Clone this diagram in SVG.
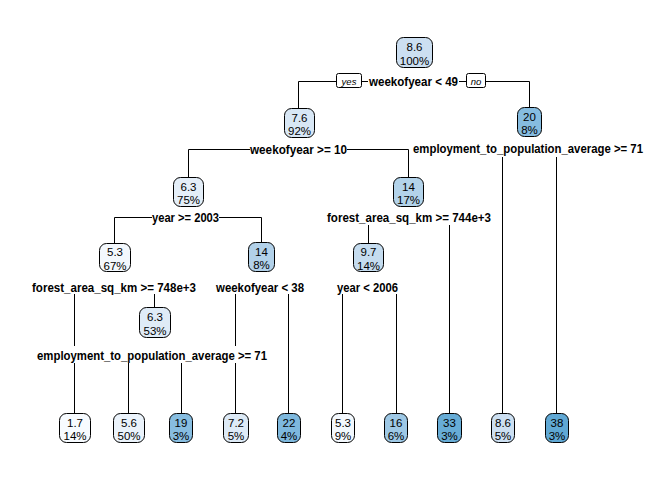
<svg xmlns="http://www.w3.org/2000/svg" width="672" height="480" viewBox="0 0 672 480">
<style>
.bg{fill:#ffffff}
.n{stroke:#000;stroke-width:1}
.t{font-family:"Liberation Sans",Arial,sans-serif;font-size:11.5px;text-anchor:middle;fill:#000}
.s{font-family:"Liberation Sans",Arial,sans-serif;font-size:12px;font-weight:bold;text-anchor:middle;fill:#000}
.yn{font-family:"Liberation Sans",Arial,sans-serif;font-size:9.5px;font-style:italic;text-anchor:middle;fill:#000}
.c{stroke:#000;stroke-width:1;fill:none}
.yb{fill:#fff;stroke:#000;stroke-width:1}
</style>
<rect class="bg" x="0" y="0" width="672" height="480"/>
<g id="connectors">
<path class="c" d="M298.5,81.5H336M362,81.5H368M459,81.5H466M486,81.5H529.5V108M298.5,81.5V108"/>
<path class="c" d="M188.5,149.5H250M347,149.5H408.5V177M188.5,149.5V177"/>
<path class="c" d="M114.5,217.5H152M219,217.5H261.5V242M114.5,217.5V243"/>
<path class="c" d="M502.5,157V413M556.5,157V413"/>
<path class="c" d="M368.5,225V243M449.5,225V413"/>
<path class="c" d="M74.5,294V346M74.5,363V413M154.5,294V307"/>
<path class="c" d="M235.5,294V346M235.5,363V413M288.5,294V413"/>
<path class="c" d="M342.5,294V413M396.5,294V413"/>
<path class="c" d="M128.5,363V413M181.5,363V413"/>
</g>
<g id="node1">
<rect class="n" x="396.5" y="37.5" width="36" height="30" rx="7" fill="#CCDFF1"/>
<text class="t" x="414.5" y="50.5">8.6</text><text class="t" x="414.5" y="64.5">100%</text>
<text class="s" x="413.5" y="85.5" textLength="89" lengthAdjust="spacingAndGlyphs">weekofyear &lt; 49</text>
<rect class="yb" x="336.5" y="73.5" width="25" height="14" rx="2"/>
<text class="yn" x="349" y="84.5">yes</text>
<rect class="yb" x="466.5" y="73.5" width="19" height="14" rx="2"/>
<text class="yn" x="476" y="84.5">no</text>
</g>
<g id="node2">
<rect class="n" x="284.5" y="108.5" width="30" height="29" rx="7" fill="#D8E7F5"/>
<text class="t" x="299.5" y="121.5">7.6</text><text class="t" x="299.5" y="135">92%</text>
<text class="s" x="298.5" y="154" textLength="97" lengthAdjust="spacingAndGlyphs">weekofyear &gt;= 10</text>
</g>
<g id="node3">
<rect class="n" x="517.5" y="107.5" width="24" height="29" rx="7" fill="#86BCE0"/>
<text class="t" x="529.5" y="120.5">20</text><text class="t" x="529.5" y="134">8%</text>
<text class="s" x="528" y="153" textLength="230" lengthAdjust="spacingAndGlyphs">employment_to_population_average &gt;= 71</text>
</g>
<g id="node4">
<rect class="n" x="173.5" y="177.5" width="30" height="29" rx="7" fill="#E4EEF8"/>
<text class="t" x="188.5" y="190.5">6.3</text><text class="t" x="188.5" y="204">75%</text>
<text class="s" x="185.5" y="221.5" textLength="67" lengthAdjust="spacingAndGlyphs">year &gt;= 2003</text>
</g>
<g id="node5">
<rect class="n" x="393.5" y="177.5" width="30" height="29" rx="7" fill="#B3D3EA"/>
<text class="t" x="408.5" y="190.5">14</text><text class="t" x="408.5" y="204">17%</text>
<text class="s" x="409" y="221.5" textLength="164" lengthAdjust="spacingAndGlyphs">forest_area_sq_km &gt;= 744e+3</text>
</g>
<g id="node6">
<rect class="n" x="99.5" y="243.5" width="31" height="28" rx="7" fill="#F3F8FD"/>
<text class="t" x="115" y="256">5.3</text><text class="t" x="115" y="269.5">67%</text>
<text class="s" x="114" y="291.5" textLength="164" lengthAdjust="spacingAndGlyphs">forest_area_sq_km &gt;= 748e+3</text>
</g>
<g id="node7">
<rect class="n" x="248.5" y="242.5" width="26" height="29" rx="7" fill="#B2D1E9"/>
<text class="t" x="261.5" y="255.5">14</text><text class="t" x="261.5" y="269">8%</text>
<text class="s" x="260" y="291.5" textLength="88" lengthAdjust="spacingAndGlyphs">weekofyear &lt; 38</text>
</g>
<g id="node8">
<rect class="n" x="353.5" y="243.5" width="30" height="28" rx="7" fill="#C5DCEF"/>
<text class="t" x="368.5" y="256">9.7</text><text class="t" x="368.5" y="269.5">14%</text>
<text class="s" x="367.5" y="291.5" textLength="61" lengthAdjust="spacingAndGlyphs">year &lt; 2006</text>
</g>
<g id="node9">
<rect class="n" x="139.5" y="307.5" width="31" height="30" rx="7" fill="#DFEBF7"/>
<text class="t" x="155" y="320.5">6.3</text><text class="t" x="155" y="334.5">53%</text>
<text class="s" x="152" y="359.5" textLength="230" lengthAdjust="spacingAndGlyphs">employment_to_population_average &gt;= 71</text>
</g>
<g id="leaf1"><rect class="n" x="59.5" y="413.5" width="31" height="29" rx="7" fill="#F7FBFF"/>
<text class="t" x="75" y="426.5">1.7</text><text class="t" x="75" y="440">14%</text></g>
<g id="leaf2"><rect class="n" x="113.5" y="413.5" width="31" height="29" rx="7" fill="#EBF3FB"/>
<text class="t" x="129" y="426.5">5.6</text><text class="t" x="129" y="440">50%</text></g>
<g id="leaf3"><rect class="n" x="169.5" y="413.5" width="23" height="29" rx="7" fill="#87BDE0"/>
<text class="t" x="181" y="426.5">19</text><text class="t" x="181" y="440">3%</text></g>
<g id="leaf4"><rect class="n" x="223.5" y="413.5" width="25" height="29" rx="7" fill="#DDEAF6"/>
<text class="t" x="236" y="426.5">7.2</text><text class="t" x="236" y="440">5%</text></g>
<g id="leaf5"><rect class="n" x="277.5" y="413.5" width="23" height="29" rx="7" fill="#7EB8DD"/>
<text class="t" x="289" y="426.5">22</text><text class="t" x="289" y="440">4%</text></g>
<g id="leaf6"><rect class="n" x="331.5" y="413.5" width="23" height="29" rx="7" fill="#F3F8FD"/>
<text class="t" x="343" y="426.5">5.3</text><text class="t" x="343" y="440">9%</text></g>
<g id="leaf7"><rect class="n" x="384.5" y="413.5" width="23" height="29" rx="7" fill="#9EC8E5"/>
<text class="t" x="396" y="426.5">16</text><text class="t" x="396" y="440">6%</text></g>
<g id="leaf8"><rect class="n" x="437.5" y="413.5" width="24" height="29" rx="7" fill="#67ACD6"/>
<text class="t" x="449.5" y="426.5">33</text><text class="t" x="449.5" y="440">3%</text></g>
<g id="leaf9"><rect class="n" x="491.5" y="413.5" width="23" height="29" rx="7" fill="#CCDFF1"/>
<text class="t" x="503" y="426.5">8.6</text><text class="t" x="503" y="440">5%</text></g>
<g id="leaf10"><rect class="n" x="545.5" y="413.5" width="23" height="29" rx="7" fill="#60A8D4"/>
<text class="t" x="557" y="426.5">38</text><text class="t" x="557" y="440">3%</text></g>
</svg>
